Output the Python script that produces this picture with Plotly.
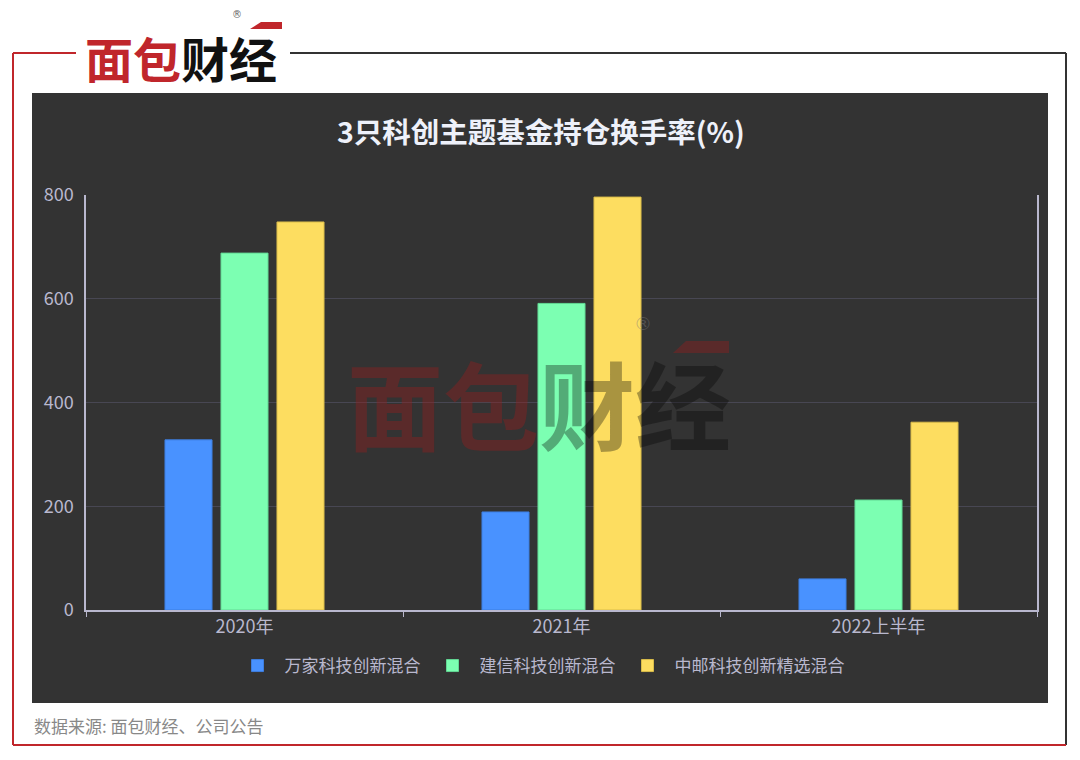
import plotly.graph_objects as go

categories = ["2020年", "2021年", "2022上半年"]
series_names = ["万家科技创新混合", "建信科技创新混合", "中邮科技创新精选混合"]
wanjia = [328, 189, 60]
jianxin = [688, 591, 212]
zhongyou = [748, 796, 362]
y_ticks = [0, 200, 400, 600, 800]

colors = ["#4992ff", "#7cffb2", "#fddd60"]
edge = ["#3d7ee0", "#62d894", "#d9bc4a"]

FONT = "Noto Sans CJK SC"
# target screen pixel positions of the plot area
L, R, T, B = 86, 1037, 195, 610
W, H = R - L, B - T
OFF = 8  # page body offset


def fx(px):
    return (px - L) / W


def fy(py):
    return (B - py) / H


fig = go.Figure()
for name, vals, c, e in zip(series_names, [wanjia, jianxin, zhongyou], colors, edge):
    fig.add_trace(go.Bar(
        x=categories, y=vals, name=name,
        marker=dict(color=c, line=dict(color=e, width=1)),
    ))

shapes = [
    dict(type="rect", xref="paper", yref="paper", x0=fx(32), x1=fx(1048), y0=fy(703), y1=fy(93),
         fillcolor="#333333", line=dict(width=0), layer="below"),
    dict(type="line", xref="paper", yref="paper", x0=fx(13), x1=fx(13), y0=fy(745), y1=fy(53),
         line=dict(color="#c0262b", width=2)),
    dict(type="line", xref="paper", yref="paper", x0=fx(13), x1=fx(76), y0=fy(53), y1=fy(53),
         line=dict(color="#c0262b", width=2)),
    dict(type="line", xref="paper", yref="paper", x0=fx(290), x1=fx(1066), y0=fy(53), y1=fy(53),
         line=dict(color="#333333", width=2)),
    dict(type="line", xref="paper", yref="paper", x0=fx(1066), x1=fx(1066), y0=fy(745), y1=fy(53),
         line=dict(color="#333333", width=2)),
    dict(type="line", xref="paper", yref="paper", x0=fx(13), x1=fx(1066), y0=fy(745), y1=fy(745),
         line=dict(color="#c0262b", width=2)),
    dict(type="path", xref="paper", yref="paper",
         path=f"M {fx(250)} {fy(29)} L {fx(261)} {fy(22)} L {fx(282)} {fy(22)} L {fx(282)} {fy(29)} Z",
         fillcolor="#c0262b", line=dict(width=0)),
    dict(type="path", xref="paper", yref="paper",
         path=f"M {fx(673)} {fy(353)} L {fx(686)} {fy(341)} L {fx(729)} {fy(341)} L {fx(729)} {fy(353)} Z",
         fillcolor="rgba(150,30,30,0.4)", line=dict(width=0)),
]

annotations = [
    dict(text="<b>3只科创主题基金持仓换手率(%)</b>", x=fx(541), y=fy(131), xref="paper", yref="paper",
         xanchor="center", yanchor="middle", showarrow=False,
         font=dict(family=FONT, size=28.5, color="#eef1fa")),
    dict(text='<b><span style="color:#c0262b">面包</span><span style="color:#111111">财经</span></b>',
         x=fx(181), y=fy(57), xref="paper", yref="paper", xanchor="center", yanchor="middle",
         showarrow=False, font=dict(family=FONT, size=48)),
    dict(text="®", x=fx(237), y=fy(15), xref="paper", yref="paper", xanchor="center", yanchor="middle",
         showarrow=False, font=dict(family="DejaVu Sans", size=10, color="#666666")),
    dict(text='<b><span style="color:rgba(150,30,30,0.4)">面包</span><span style="color:rgba(0,0,0,0.33)">财经</span></b>',
         x=fx(539), y=fy(401), xref="paper", yref="paper", xanchor="center", yanchor="middle",
         showarrow=False, font=dict(family=FONT, size=96)),
    dict(text="®", x=fx(643), y=fy(336), xref="paper", yref="paper", xanchor="center", yanchor="bottom",
         showarrow=False, font=dict(family="DejaVu Sans", size=18, color="rgba(120,120,120,0.45)")),
    dict(text="数据来源: 面包财经、公司公告", x=fx(32), y=fy(725), xref="paper", yref="paper",
         xanchor="left", yanchor="middle", showarrow=False,
         font=dict(family=FONT, size=17, color="#888888")),
]

fig.update_layout(
    width=1080, height=760,
    margin=dict(l=L - OFF, r=1080 - (R - OFF), t=T - OFF, b=760 - (B - OFF), autoexpand=False),
    paper_bgcolor="#ffffff",
    plot_bgcolor="rgba(0,0,0,0)",
    barmode="group",
    bargap=0.47,
    bargroupgap=0.16,
    font=dict(family=FONT, size=17, color="#b9b8ce"),
    showlegend=True,
    legend=dict(orientation="h", x=fx(540), y=fy(666), xanchor="center", yanchor="middle",
                font=dict(family=FONT, size=17, color="#b9b8ce"), bgcolor="rgba(0,0,0,0)",
                itemwidth=44),
    shapes=shapes,
    annotations=annotations,
    xaxis=dict(
        showline=True, linecolor="#b9b8ce", linewidth=1.5,
        ticks="outside", tickson="boundaries", ticklen=5, tickcolor="#b9b8ce",
        showgrid=False, tickfont=dict(family=FONT, size=18, color="#b9b8ce"),
    ),
    yaxis=dict(
        range=[0, 800], tickvals=y_ticks, showline=True, linecolor="#b9b8ce", linewidth=1.5,
        mirror=True, showgrid=True, gridcolor="#484753", gridwidth=1, zeroline=False,
        ticks="", ticklabelstandoff=7, tickfont=dict(family=FONT, size=18, color="#b9b8ce"),
    ),
)

fig.write_html("out.html")
